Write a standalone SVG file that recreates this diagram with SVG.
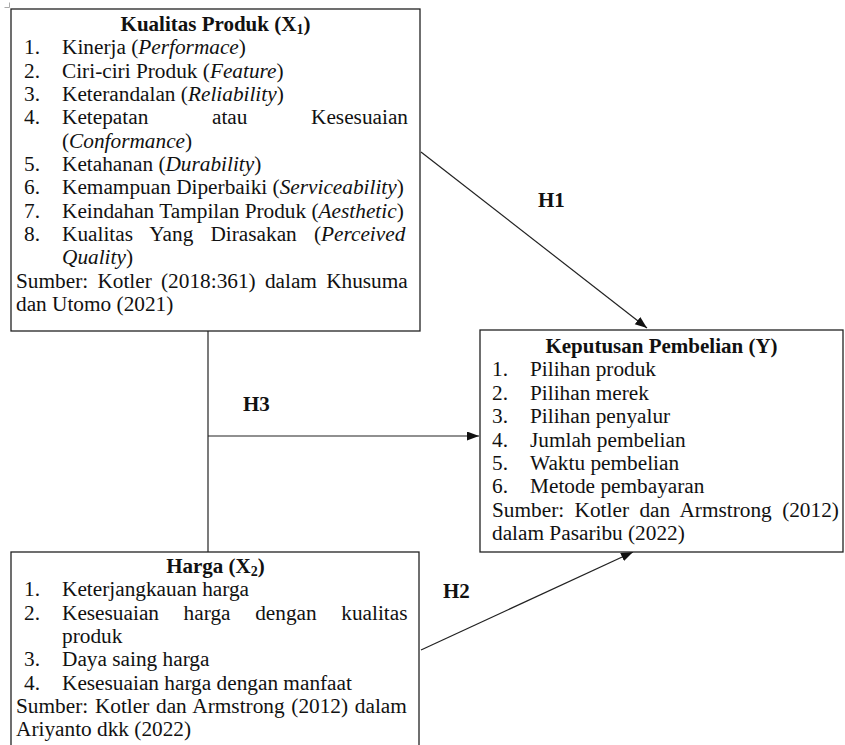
<svg xmlns="http://www.w3.org/2000/svg" width="845" height="745" viewBox="0 0 845 745">
<style>
  text { font-family: "Liberation Serif", "Times New Roman", serif; font-size: 21.3px; fill: #111; }
  .b { font-weight: bold; font-size: 21px; }
  .i { font-style: italic; }
  .box { fill: #fff; stroke: #222; stroke-width: 1.3; }
  .conn { stroke: #222; stroke-width: 1.2; fill: none; }
  .mid { text-anchor: middle; }
</style>
<defs>
  <marker id="arr" markerUnits="userSpaceOnUse" markerWidth="13" markerHeight="10" refX="12" refY="4.5" orient="auto">
    <path d="M0,0 L12,4.5 L0,9 z" fill="#111"/>
  </marker>
</defs>
<rect width="845" height="745" fill="#fff"/>
<path d="M4.5,7.5 H9.5 V2.5" stroke="#aaa" stroke-width="1" fill="none"/>

<g id="connectors">
  <line class="conn" x1="421" y1="152" x2="647" y2="328" marker-end="url(#arr)"/>
  <line class="conn" x1="208" y1="331" x2="208" y2="552"/>
  <line class="conn" x1="208" y1="436" x2="479" y2="436" marker-end="url(#arr)"/>
  <line class="conn" x1="421" y1="650" x2="633" y2="552" marker-end="url(#arr)"/>
  <text class="b" x="538" y="207">H1</text>
  <text class="b" x="243" y="411">H3</text>
  <text class="b" x="443" y="598">H2</text>
</g>

<g id="x1">
  <rect class="box" x="11" y="9" width="409" height="322"/>
  <text class="b mid" x="215.5" y="31">Kualitas Produk (X<tspan font-size="14" dy="3">1</tspan><tspan dy="-3">)</tspan></text>
  <text x="24" y="54.3">1.</text><text x="62" y="54.3">Kinerja (<tspan class="i">Performace</tspan>)</text>
  <text x="24" y="77.7">2.</text><text x="62" y="77.7">Ciri-ciri Produk (<tspan class="i">Feature</tspan>)</text>
  <text x="24" y="101">3.</text><text x="62" y="101">Keterandalan (<tspan class="i">Reliability</tspan>)</text>
  <text x="24" y="124.3">4.</text><text x="62" y="124.3" word-spacing="58.3">Ketepatan atau Kesesuaian</text>
  <text x="62" y="147.7">(<tspan class="i">Conformance</tspan>)</text>
  <text x="24" y="171">5.</text><text x="62" y="171">Ketahanan (<tspan class="i">Durability</tspan>)</text>
  <text x="24" y="194.3">6.</text><text x="62" y="194.3">Kemampuan Diperbaiki (<tspan class="i">Serviceability</tspan>)</text>
  <text x="24" y="217.7">7.</text><text x="62" y="217.7">Keindahan Tampilan Produk (<tspan class="i">Aesthetic</tspan>)</text>
  <text x="24" y="241">8.</text><text x="62" y="241" word-spacing="11.8">Kualitas Yang Dirasakan (<tspan class="i">Perceived</tspan></text>
  <text x="62" y="264.3"><tspan class="i">Quality</tspan>)</text>
  <text x="16" y="287.7" word-spacing="3.9">Sumber: Kotler (2018:361) dalam Khusuma</text>
  <text x="16" y="311">dan Utomo (2021)</text>
</g>

<g id="y">
  <rect class="box" x="480" y="330" width="363" height="222"/>
  <text class="b mid" x="661.5" y="353">Keputusan Pembelian (Y)</text>
  <text x="492" y="376.4">1.</text><text x="530" y="376.4">Pilihan produk</text>
  <text x="492" y="399.8">2.</text><text x="530" y="399.8">Pilihan merek</text>
  <text x="492" y="423.2">3.</text><text x="530" y="423.2">Pilihan penyalur</text>
  <text x="492" y="446.6">4.</text><text x="530" y="446.6">Jumlah pembelian</text>
  <text x="492" y="470">5.</text><text x="530" y="470">Waktu pembelian</text>
  <text x="492" y="493.4">6.</text><text x="530" y="493.4">Metode pembayaran</text>
  <text x="492" y="516.8" word-spacing="5.1">Sumber: Kotler dan Armstrong (2012)</text>
  <text x="492" y="540.2">dalam Pasaribu (2022)</text>
</g>

<g id="x2">
  <rect class="box" x="11" y="552" width="408" height="210"/>
  <text class="b mid" x="215.5" y="573">Harga (X<tspan font-size="14" dy="3">2</tspan><tspan dy="-3">)</tspan></text>
  <text x="24" y="596.3">1.</text><text x="62" y="596.3">Keterjangkauan harga</text>
  <text x="24" y="619.6">2.</text><text x="62" y="619.6" word-spacing="19.3">Kesesuaian harga dengan kualitas</text>
  <text x="62" y="642.9">produk</text>
  <text x="24" y="666.2">3.</text><text x="62" y="666.2">Daya saing harga</text>
  <text x="24" y="689.5">4.</text><text x="62" y="689.5">Kesesuaian harga dengan manfaat</text>
  <text x="16" y="712.8" word-spacing="1.4">Sumber: Kotler dan Armstrong (2012) dalam</text>
  <text x="16" y="736.1">Ariyanto dkk (2022)</text>
</g>
</svg>
